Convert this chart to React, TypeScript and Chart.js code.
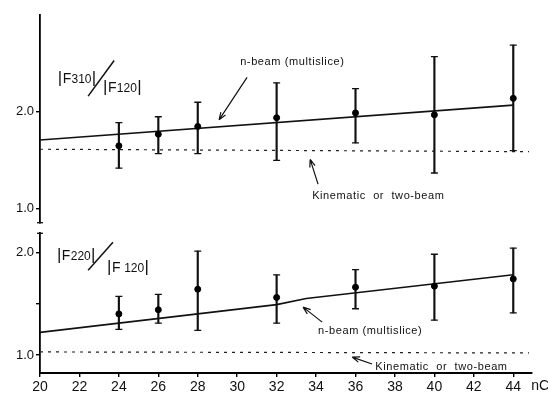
import { useEffect, useRef } from 'react';
import { Chart, registerables } from 'chart.js';

Chart.register(...registerables);

// ---------- data ----------
const X_TICKS = [20, 22, 24, 26, 28, 30, 32, 34, 36, 38, 40, 42, 44];
const X_MIN = 20;
const X_MAX = 44.95;
const N_VALUES = [24, 26, 28, 32, 36, 40, 44];

// top panel: |F310| / |F120|
const TOP_Y_TICKS = [1.0, 2.0];
const TOP_MEAN = [1.65, 1.77, 1.85, 1.94, 1.99, 1.97, 2.14];
const TOP_LOW = [1.42, 1.57, 1.57, 1.50, 1.68, 1.37, 1.60];
const TOP_HIGH = [1.89, 1.95, 2.10, 2.30, 2.24, 2.57, 2.69];
const TOP_NBEAM_X = [20, 44];
const TOP_NBEAM_Y = [1.71, 2.07];
const TOP_KIN_X = [20, 44.8];
const TOP_KIN_Y = [1.615, 1.59];

// bottom panel: |F220| / |F120|
const BOT_Y_TICKS = [1.0, 1.5, 2.0];
const BOT_MEAN = [1.40, 1.44, 1.64, 1.56, 1.66, 1.67, 1.74];
const BOT_LOW = [1.25, 1.31, 1.24, 1.31, 1.45, 1.34, 1.41];
const BOT_HIGH = [1.57, 1.59, 2.01, 1.78, 1.83, 1.98, 2.04];
const BOT_NBEAM_X = [20, 32, 33.5, 44];
const BOT_NBEAM_Y = [1.22, 1.49, 1.55, 1.78];
const BOT_KIN_X = [20, 44.8];
const BOT_KIN_Y = [1.03, 1.02];

const LBL_NBEAM = 'n-beam (multislice)';
const LBL_KIN = 'Kinematic  or  two-beam';

const FONT = 'Liberation Sans';
const INK = '#111';

type Annot = {
  texts: { t: string; x: number; y: number }[];
  arrows: { x1: number; y1: number; x2: number; y2: number }[];
  ratio: { x: number; y: number; num: string; x2: number; y2: number; den: string; sx1: number; sy1: number; sx2: number; sy2: number };
};

const TOP_ANNOT: Annot = {
  texts: [
    { t: LBL_NBEAM, x: 30.15, y: 2.52 },
    { t: LBL_KIN, x: 33.8, y: 1.13 },
  ],
  arrows: [
    { x1: 30.5, y1: 2.357, x2: 29.08, y2: 1.918 },
    { x1: 34.1, y1: 1.255, x2: 33.7, y2: 1.51 },
  ],
  ratio: { x: 20.9, y: 2.30, num: '310', x2: 23.2, y2: 2.205, den: '120', sx1: 22.44, sy1: 2.163, sx2: 23.76, sy2: 2.531 },
};

const BOT_ANNOT: Annot = {
  texts: [
    { t: LBL_NBEAM, x: 34.1, y: 1.233 },
    { t: LBL_KIN, x: 37.0, y: 0.883 },
  ],
  arrows: [
    { x1: 34.31, y1: 1.32, x2: 33.34, y2: 1.466 },
    { x1: 36.84, y1: 0.913, x2: 35.83, y2: 0.98 },
  ],
  ratio: { x: 20.86, y: 1.925, num: '220', x2: 23.4, y2: 1.81, den: ' 120', sx1: 22.44, sy1: 1.825, sx2: 23.7, sy2: 2.097 },
};

function drawRatioPart(ctx: CanvasRenderingContext2D, x: number, y: number, sub: string) {
  let cx = x;
  const parts = [
    { t: '|', s: 17 },
    { t: 'F', s: 14 },
    { t: sub, s: 12 },
    { t: '|', s: 17 },
  ];
  for (const p of parts) {
    ctx.font = `${p.s}px "${FONT}"`;
    ctx.fillText(p.t, cx, y);
    cx += ctx.measureText(p.t).width + (p.t === '|' ? 0.5 : 0.3);
  }
}

function drawArrow(ctx: CanvasRenderingContext2D, x1: number, y1: number, x2: number, y2: number) {
  ctx.beginPath();
  ctx.moveTo(x1, y1);
  ctx.lineTo(x2, y2);
  const a = Math.atan2(y2 - y1, x2 - x1);
  const L = 8;
  for (const d of [0.35, -0.35]) {
    ctx.moveTo(x2, y2);
    ctx.lineTo(x2 - L * Math.cos(a + d), y2 - L * Math.sin(a + d));
  }
  ctx.stroke();
}

function makeAnnotPlugin(annot: Annot, isTop: boolean) {
  return {
    id: 'annot' + (isTop ? 'Top' : 'Bot'),
    afterDraw(chart: any) {
      const ctx: CanvasRenderingContext2D = chart.ctx;
      const xs = chart.scales.x;
      const ys = chart.scales.y;
      const px = (v: number) => xs.getPixelForValue(v);
      const py = (v: number) => ys.getPixelForValue(v);
      ctx.save();
      ctx.fillStyle = INK;
      ctx.strokeStyle = INK;
      ctx.lineWidth = 1.2;
      // labels
      ctx.font = `11px "${FONT}"`;
      (ctx as any).letterSpacing = '0.6px';
      ctx.textBaseline = 'middle';
      ctx.textAlign = 'left';
      for (const t of annot.texts) ctx.fillText(t.t, px(t.x), py(t.y));
      (ctx as any).letterSpacing = '0px';
      for (const a of annot.arrows) drawArrow(ctx, px(a.x1), py(a.y1), px(a.x2), py(a.y2));
      // ratio label
      const r = annot.ratio;
      ctx.textBaseline = 'alphabetic';
      drawRatioPart(ctx, px(r.x), py(r.y), r.num);
      drawRatioPart(ctx, px(r.x2), py(r.y2), r.den);
      ctx.lineWidth = 1.5;
      ctx.beginPath();
      ctx.moveTo(px(r.sx1), py(r.sy1));
      ctx.lineTo(px(r.sx2), py(r.sy2));
      ctx.stroke();
      // axis-break caps
      const ca = chart.chartArea;
      ctx.lineWidth = 1.3;
      ctx.beginPath();
      const yy = isTop ? ca.bottom : ca.top;
      ctx.moveTo(ca.left - 3, yy);
      ctx.lineTo(ca.left + 3, yy);
      ctx.stroke();
      // unit after last tick
      if (!isTop) {
        ctx.font = `14px "${FONT}"`;
        ctx.textBaseline = 'top';
        ctx.fillText('nC', px(44) + 18, xs.top + 6);
      }
      ctx.restore();
    },
  };
}

function buildConfig(isTop: boolean): any {
  const mean = isTop ? TOP_MEAN : BOT_MEAN;
  const low = isTop ? TOP_LOW : BOT_LOW;
  const high = isTop ? TOP_HIGH : BOT_HIGH;
  const nbx = isTop ? TOP_NBEAM_X : BOT_NBEAM_X;
  const nby = isTop ? TOP_NBEAM_Y : BOT_NBEAM_Y;
  const kx = isTop ? TOP_KIN_X : BOT_KIN_X;
  const ky = isTop ? TOP_KIN_Y : BOT_KIN_Y;
  const yTicks = isTop ? TOP_Y_TICKS : BOT_Y_TICKS;

  const caps: { x: number; y: number }[] = [];
  N_VALUES.forEach((x, i) => {
    caps.push({ x, y: low[i] });
    caps.push({ x, y: high[i] });
  });

  const datasets: any[] = [
    {
      type: 'line',
      data: nbx.map((x, i) => ({ x, y: nby[i] })),
      borderColor: INK,
      borderWidth: 1.6,
      pointRadius: 0,
      tension: 0,
      order: 5,
    },
    {
      type: 'line',
      data: kx.map((x, i) => ({ x, y: ky[i] })),
      borderColor: '#222',
      borderWidth: 1.2,
      borderDash: [3, 5],
      pointRadius: 0,
      order: 5,
    },
    {
      type: 'bar',
      data: N_VALUES.map((x, i) => ({ x, y: [low[i], high[i]] })),
      backgroundColor: INK,
      borderWidth: 0,
      barThickness: 1.5,
      grouped: false,
      order: 3,
    },
    {
      type: 'scatter',
      data: caps,
      pointStyle: 'line',
      pointRadius: 3.5,
      borderColor: INK,
      borderWidth: 1.3,
      order: 2,
    },
    {
      type: 'scatter',
      data: N_VALUES.map((x, i) => ({ x, y: mean[i] })),
      pointStyle: 'circle',
      pointRadius: 3,
      backgroundColor: '#000',
      borderColor: '#000',
      borderWidth: 1,
      order: 1,
    },
  ];

  return {
    type: 'scatter',
    data: { datasets },
    options: {
      responsive: false,
      animation: false,
      devicePixelRatio: 1,
      layout: {
        padding: isTop
          ? { left: 0, right: 16, top: 15, bottom: 3 }
          : { left: 0, right: 16, top: 5, bottom: 0 },
      },
      plugins: { legend: { display: false }, tooltip: { enabled: false } },
      scales: {
        x: {
          type: 'linear',
          min: X_MIN,
          max: X_MAX,
          offset: false,
          display: !isTop,
          afterBuildTicks: (s: any) => {
            s.ticks = X_TICKS.map((v) => ({ value: v }));
          },
          afterFit: (s: any) => {
            s.height = isTop ? 0 : 25;
            s.paddingLeft = 0;
            s.paddingRight = 0;
          },
          grid: {
            offset: false,
            drawOnChartArea: false,
            drawTicks: true,
            tickLength: 4,
            color: '#000',
            lineWidth: 1.4,
          },
          border: { display: true, color: '#000', width: 2 },
          ticks: {
            font: { family: FONT, size: 14 },
            color: INK,
            padding: 2,
            maxRotation: 0,
            autoSkip: false,
            callback: (v: number) => String(v),
          },
        },
        y: {
          type: 'linear',
          min: isTop ? 0.857 : 0.825,
          max: isTop ? 3.0 : 2.184,
          beginAtZero: false,
          afterBuildTicks: (s: any) => {
            s.ticks = yTicks.map((v) => ({ value: v }));
          },
          afterFit: (s: any) => {
            s.width = 40;
            s.paddingTop = 0;
            s.paddingBottom = 0;
          },
          grid: {
            drawOnChartArea: false,
            drawTicks: true,
            tickLength: 4,
            color: '#000',
            lineWidth: 1.4,
          },
          border: { display: true, color: '#000', width: 1.8 },
          ticks: {
            font: { family: FONT, size: 13 },
            color: INK,
            padding: 2,
            callback: (v: number) => (Math.abs(v - 1.5) < 1e-6 ? '' : v.toFixed(1)),
          },
        },
      },
    },
    plugins: [makeAnnotPlugin(isTop ? TOP_ANNOT : BOT_ANNOT, isTop)],
  };
}

export default function App() {
  const topRef = useRef<HTMLCanvasElement>(null);
  const botRef = useRef<HTMLCanvasElement>(null);
  useEffect(() => {
    const c1 = new Chart(topRef.current as HTMLCanvasElement, buildConfig(true));
    const c2 = new Chart(botRef.current as HTMLCanvasElement, buildConfig(false));
    return () => {
      c1.destroy();
      c2.destroy();
    };
  }, []);
  return (
    <div style={{ position: 'fixed', left: 0, top: 0, width: 548, height: 398, background: '#fff' }}>
      <canvas ref={topRef} width={548} height={228} style={{ display: 'block' }} />
      <canvas ref={botRef} width={548} height={170} style={{ display: 'block' }} />
    </div>
  );
}
